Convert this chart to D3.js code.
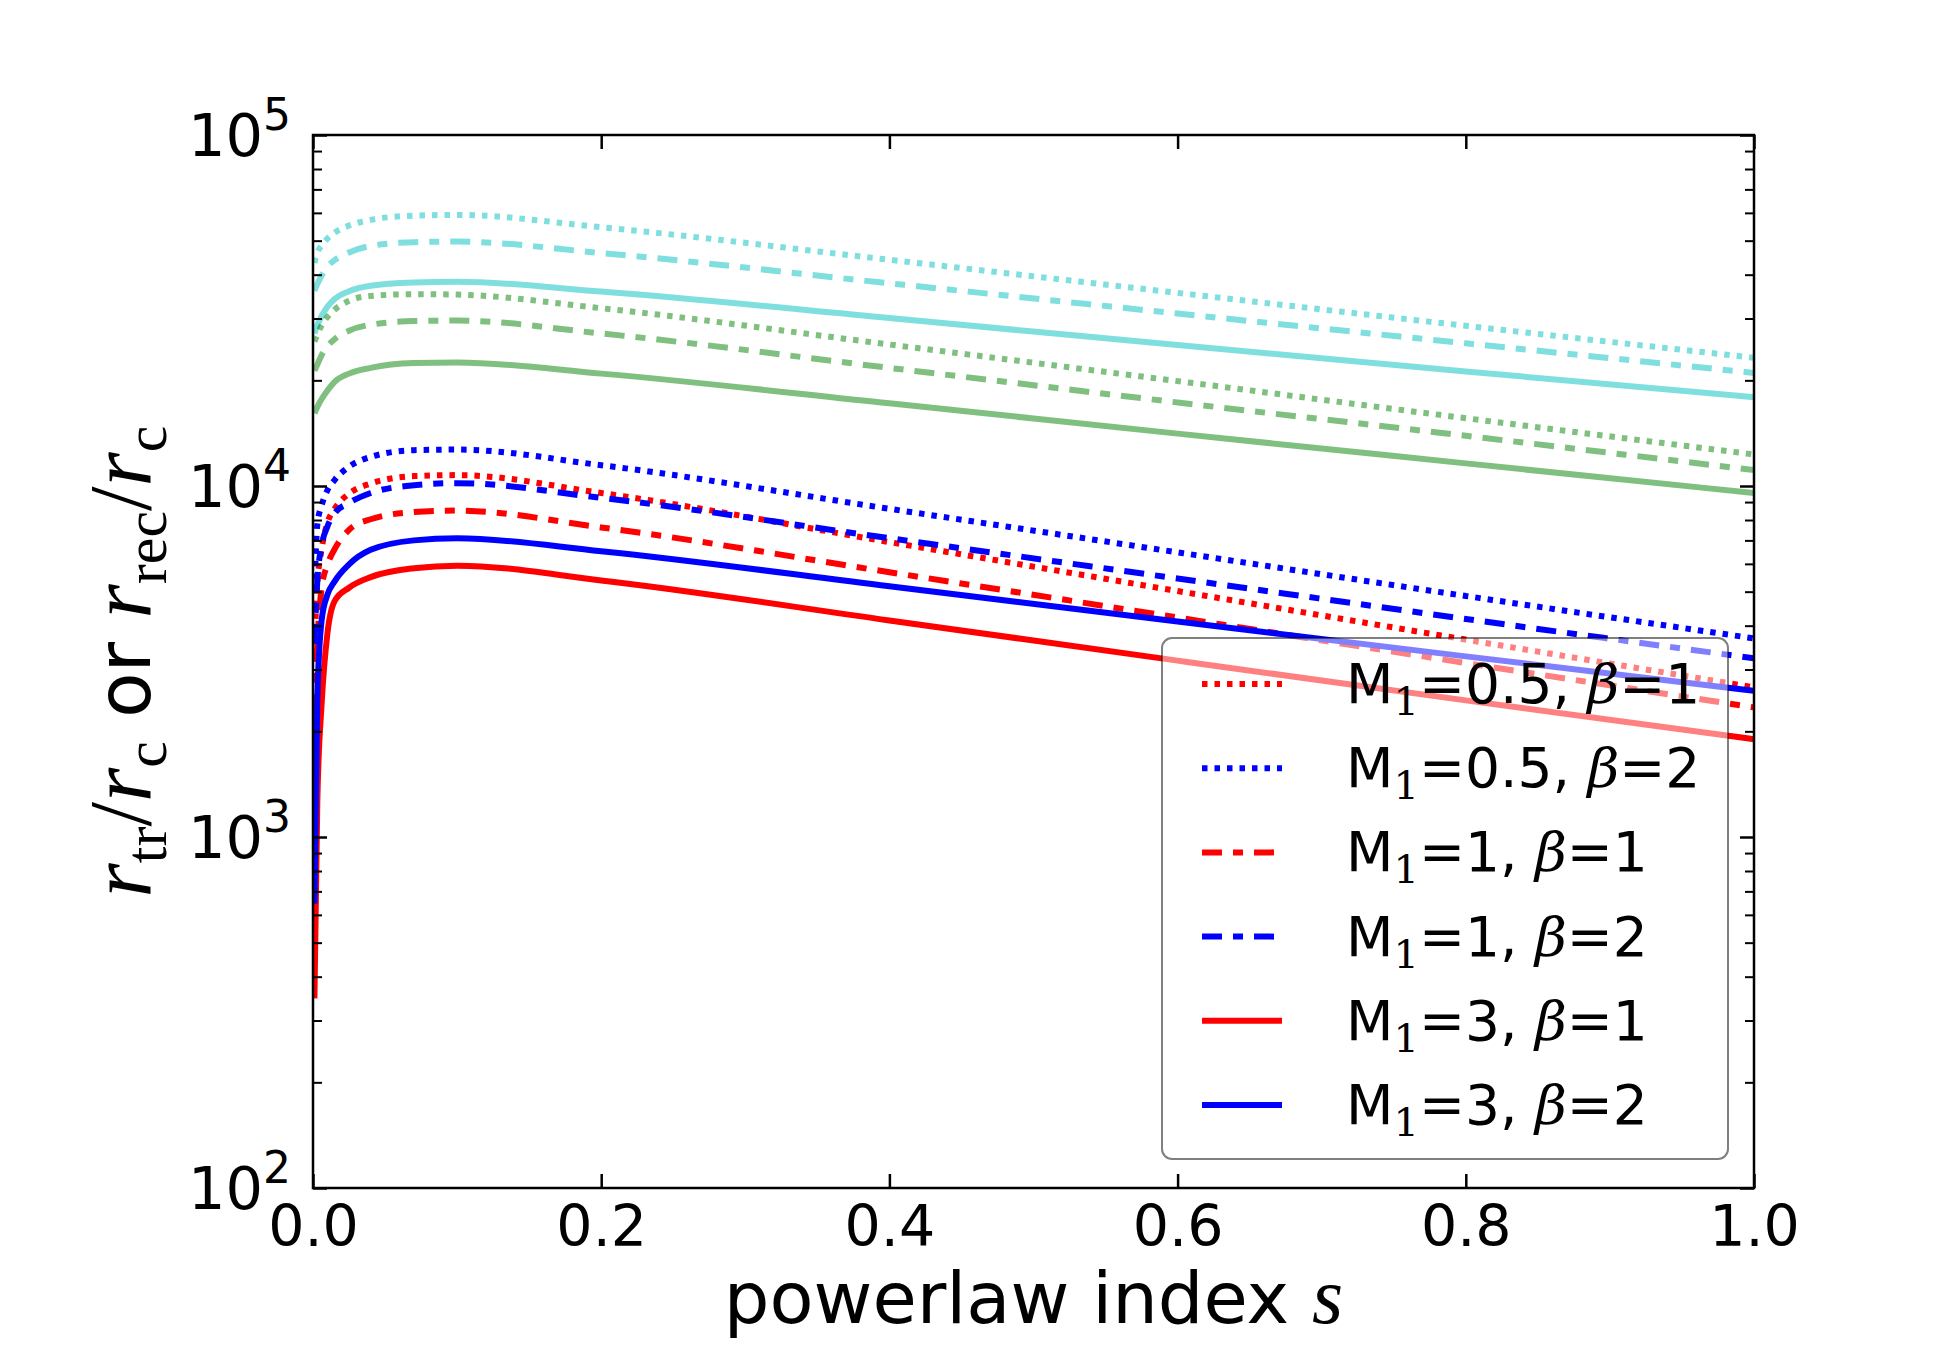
<!DOCTYPE html>
<html>
<head>
<meta charset="utf-8">
<script src="https://cdn.jsdelivr.net/npm/d3@7"></script>
<style>
body { margin: 0; background: #fff; }
</style>
</head>
<body>
<div id="mainplot"></div>
<script>
// powerlaw index s (shared by all curves)
var sValues = [0.001, 0.003, 0.006, 0.01, 0.015, 0.025, 0.04, 0.07, 0.1, 0.2, 0.4, 0.6, 0.8, 1.0];

// r_tr / r_c  (red: beta=1, blue: beta=2)
var redDotted   = [3550, 5250, 6610, 7850, 8610, 9510, 10160, 10670, 10740, 9550, 6920, 5020, 3650, 2670];
var blueDotted  = [5010, 7760, 8810, 9730, 10400, 11350, 12100, 12650, 12700, 11460, 8610, 6470, 4860, 3680];
var redDashDot  = [2240, 3550, 5130, 5960, 6610, 7500, 8040, 8430, 8510, 7620, 5680, 4220, 3130, 2340];
var blueDashDot = [3550, 5370, 6760, 7670, 8360, 8950, 9550, 10050, 10190, 9250, 7100, 5450, 4180, 3230];
var redSolid    = [347, 1260, 2400, 3800, 4700, 5130, 5500, 5830, 5930, 5380, 4140, 3180, 2450, 1900];
var blueSolid   = [646, 2510, 4150, 4900, 5350, 5980, 6580, 7000, 7100, 6520, 5180, 4110, 3270, 2610];

// r_rec / r_c  (faded cyan and green)
var cyanDotted   = [43200, 46200, 48500, 50700, 52700, 55200, 57300, 58900, 59200, 54600, 44100, 35500, 28600, 23200];
var cyanDashDot  = [36000, 37600, 39800, 42200, 44000, 46300, 48300, 49500, 49700, 46100, 37800, 31000, 25500, 21000];
var cyanSolid    = [27200, 28700, 30500, 32400, 34100, 35900, 37200, 38000, 38200, 35800, 30100, 25200, 21200, 17900];
var greenDotted  = [25800, 27000, 28700, 30300, 31800, 33700, 34800, 35200, 35100, 32100, 25300, 19900, 15600, 12300];
var greenDashDot = [21300, 22200, 23600, 25000, 26200, 27700, 28800, 29500, 29600, 27200, 21700, 17300, 13900, 11100];
var greenSolid   = [16100, 16800, 17700, 18700, 19800, 20900, 21700, 22400, 22500, 20900, 17200, 14100, 11600, 9550];

// ticks and legend text
var xTicks = [0, 0.2, 0.4, 0.6, 0.8, 1.0];
var yMajor = [100, 1000, 10000, 100000];
var yExponents = ["2", "3", "4", "5"];
var legendM = ["0.5", "0.5", "1", "1", "3", "3"];
var legendBeta = ["1", "2", "1", "2", "1", "2"];

var dotted = "5.5,7", dashdot = "20,11,10,11";

var plot = {left: 313, right: 1754, top: 135, bottom: 1188};

var outer = d3.select('#mainplot').append('svg')
    .attr('width', 1950)
    .attr('height', 1350)
    .style('background', '#fff');

var Xscale = d3.scaleLinear().domain([0, 1]).range([plot.left, plot.right]);
var Yscale = d3.scaleLog().domain([100, 1e5]).range([plot.bottom, plot.top]);

outer.append('defs').append('clipPath').attr('id', 'clip')
    .append('rect')
    .attr('x', plot.left).attr('y', plot.top)
    .attr('width', plot.right - plot.left)
    .attr('height', plot.bottom - plot.top);

// series table built from the arrays
var series = [
    {v: cyanDotted,   c: "#00bfbf", o: 0.5, d: dotted},
    {v: cyanDashDot,  c: "#00bfbf", o: 0.5, d: dashdot},
    {v: cyanSolid,    c: "#00bfbf", o: 0.5, d: null},
    {v: greenDotted,  c: "#008000", o: 0.5, d: dotted},
    {v: greenDashDot, c: "#008000", o: 0.5, d: dashdot},
    {v: greenSolid,   c: "#008000", o: 0.5, d: null},
    {v: redDotted,    c: "#ff0000", o: 1, d: dotted},
    {v: blueDotted,   c: "#0000ff", o: 1, d: dotted},
    {v: redDashDot,   c: "#ff0000", o: 1, d: dashdot},
    {v: blueDashDot,  c: "#0000ff", o: 1, d: dashdot},
    {v: redSolid,     c: "#ff0000", o: 1, d: null},
    {v: blueSolid,    c: "#0000ff", o: 1, d: null}
];

var curveLine = d3.line()
    .x(function(d, i) { return Xscale(sValues[i]); })
    .y(function(d) { return Yscale(d); })
    .curve(d3.curveMonotoneX);

var lines = outer.append('g').attr('clip-path', 'url(#clip)');
series.forEach(function(sr) {
    lines.append('path')
        .datum(sr.v)
        .attr('d', curveLine)
        .style('fill', 'none')
        .style('stroke', sr.c)
        .style('stroke-opacity', sr.o)
        .style('stroke-width', 6)
        .style('stroke-dasharray', sr.d);
});

// legend (semi transparent frame)
var legendSeries = series.slice(6);
var legend = outer.append('g');
legend.append('rect')
    .attr('x', 1162).attr('y', 638)
    .attr('width', 566).attr('height', 521)
    .attr('rx', 10).attr('ry', 10)
    .style('fill', '#fff').style('fill-opacity', 0.5)
    .style('stroke', '#000').style('stroke-opacity', 0.5)
    .style('stroke-width', 2);

legendSeries.forEach(function(sr, i) {
    var yy = 684 + i * 84.2;
    legend.append('line')
        .attr('x1', 1202).attr('x2', 1282)
        .attr('y1', yy).attr('y2', yy)
        .style('stroke', sr.c)
        .style('stroke-width', 6)
        .style('stroke-dasharray', sr.d);
    var t = legend.append('text')
        .attr('x', 1346).attr('y', yy + 19)
        .style('font-family', 'DejaVu Sans')
        .style('font-size', '55px');
    t.append('tspan').text('M');
    t.append('tspan').text('1').attr('dy', 12)
        .style('font-family', 'DejaVu Serif').style('font-size', '40px');
    t.append('tspan').text('=' + legendM[i] + ', ').attr('dy', -12);
    t.append('tspan').text('β')
        .style('font-family', 'DejaVu Serif').style('font-style', 'italic');
    t.append('tspan').text('=' + legendBeta[i]);
});

// frame
outer.append('rect')
    .attr('x', plot.left).attr('y', plot.top)
    .attr('width', plot.right - plot.left)
    .attr('height', plot.bottom - plot.top)
    .style('fill', 'none').style('stroke', '#000').style('stroke-width', 2.5);

// ticks, all pointing inwards
var yMinor = [];
[100, 1000, 10000].forEach(function(k) {
    for (var m = 2; m < 10; m++) yMinor.push(m * k);
});

function tickAxis(axis, pos, len, width) {
    var g = outer.append('g')
        .attr('transform', pos)
        .call(axis.tickSize(-len).tickFormat(''));
    g.select('.domain').remove();
    g.selectAll('line').style('stroke-width', width);
    return g;
}

tickAxis(d3.axisLeft(Yscale).tickValues(yMajor), 'translate(' + plot.left + ',0)', 14, 2.5);
tickAxis(d3.axisLeft(Yscale).tickValues(yMinor), 'translate(' + plot.left + ',0)', 9, 2);
tickAxis(d3.axisRight(Yscale).tickValues(yMajor), 'translate(' + plot.right + ',0)', 14, 2.5);
tickAxis(d3.axisRight(Yscale).tickValues(yMinor), 'translate(' + plot.right + ',0)', 9, 2);
tickAxis(d3.axisTop(Xscale).tickValues(xTicks), 'translate(0,' + plot.top + ')', 14, 2.5);

var axisX = outer.append('g')
    .attr('transform', 'translate(0,' + plot.bottom + ')')
    .call(d3.axisBottom(Xscale).tickValues(xTicks).tickSize(-14).tickPadding(18).tickFormat(d3.format('.1f')));
axisX.select('.domain').remove();
axisX.selectAll('line').style('stroke-width', 2.5);
axisX.selectAll('text')
    .attr('fill', '#000')
    .style('font-family', 'DejaVu Sans')
    .style('font-size', '57px');

// y tick labels 10^k
yMajor.forEach(function(v, i) {
    var t = outer.append('text')
        .attr('x', 291)
        .attr('y', Yscale(v) + 21)
        .attr('text-anchor', 'end')
        .style('font-family', 'DejaVu Sans')
        .style('font-size', '59px');
    t.append('tspan').text('10');
    t.append('tspan').text(yExponents[i]).attr('dy', -26).style('font-size', '44px');
});

// X axis label
var xl = outer.append('text')
    .attr('x', (plot.left + plot.right) / 2)
    .attr('y', 1323)
    .attr('text-anchor', 'middle')
    .style('font-family', 'DejaVu Sans')
    .style('font-size', '72px');
xl.append('tspan').text('powerlaw index ');
xl.append('tspan').text('s')
    .style('font-family', 'Liberation Serif').style('font-style', 'italic')
    .style('font-size', '80px');

// Y axis label
var yl = outer.append('text')
    .attr('transform', 'translate(150,' + (plot.top + plot.bottom) / 2 + ') rotate(-90)')
    .attr('text-anchor', 'middle')
    .style('font-family', 'Liberation Serif')
    .style('font-size', '88px');

function rSub(sub) {
    yl.append('tspan').text('r').style('font-style', 'italic');
    yl.append('tspan').text(sub).attr('dy', 16).style('font-size', '60px');
}
rSub('tr');
yl.append('tspan').text('/').attr('dy', -16);
rSub('c');
yl.append('tspan').text(' or ').attr('dy', -16)
    .style('font-family', 'DejaVu Sans').style('font-size', '74px');
rSub('rec');
yl.append('tspan').text('/').attr('dy', -16);
rSub('c');
</script>
</body>
</html>
